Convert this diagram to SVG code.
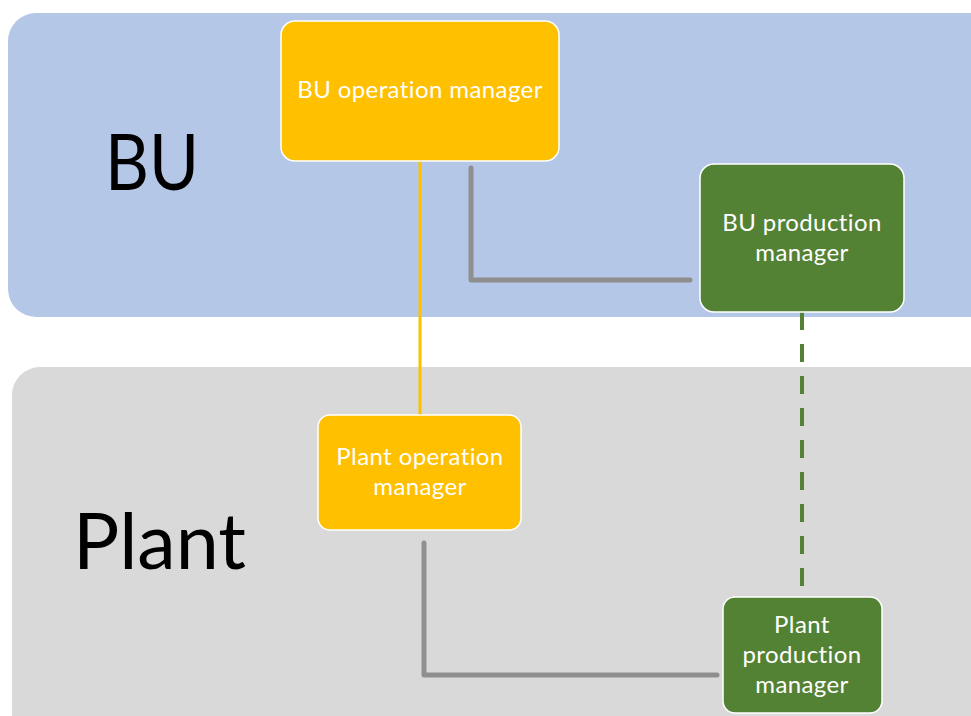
<svg xmlns="http://www.w3.org/2000/svg" width="971" height="716" viewBox="0 0 971 716">
  <style>
    .panel-label { font-family: "Lato", "Open Sans", sans-serif; fill: #000; }
    .node-text { font-family: "Lato", "Open Sans", sans-serif; font-size: 24px; fill: #fff; text-anchor: middle; letter-spacing: 0.4px; }
    .ops { fill: #FFC000; stroke: #fff; stroke-width: 1.5; }
    .prod { fill: #548235; stroke: #fff; stroke-width: 1.5; }
    .link { fill: none; stroke: #8f8f8f; stroke-width: 5; stroke-linecap: round; stroke-linejoin: round; }
  </style>
  <rect width="971" height="716" fill="#fff"/>

  <!-- Swimlanes -->
  <g id="lane-bu">
    <rect x="8" y="13" width="990" height="304" rx="28" fill="#B4C7E7"/>
    <text class="panel-label" x="105" y="190" font-size="78" textLength="94" lengthAdjust="spacingAndGlyphs">BU</text>
  </g>
  <g id="lane-plant">
    <rect x="12" y="367" width="990" height="380" rx="28" fill="#D9D9D9"/>
    <text class="panel-label" x="73" y="569" font-size="78" textLength="173" lengthAdjust="spacingAndGlyphs">Plant</text>
  </g>

  <!-- Connectors -->
  <g id="connectors">
    <line x1="420" y1="161" x2="420" y2="415" stroke="#FFC000" stroke-width="3"/>
    <path class="link" d="M471 168 V280 H690"/>
    <path class="link" d="M424 543 V675 H717"/>
    <line x1="802" y1="312" x2="802" y2="597" stroke="#548235" stroke-width="4" stroke-dasharray="18 14"/>
  </g>

  <!-- Nodes -->
  <g id="bu-operation-manager">
    <rect class="ops" x="281" y="21" width="278" height="140" rx="14"/>
    <text class="node-text" x="420" y="98">BU operation manager</text>
  </g>
  <g id="bu-production-manager">
    <rect class="prod" x="700" y="164" width="204" height="148" rx="14"/>
    <text class="node-text" x="802" y="231">BU production</text>
    <text class="node-text" x="802" y="261">manager</text>
  </g>
  <g id="plant-operation-manager">
    <rect class="ops" x="318" y="415" width="203" height="115" rx="12"/>
    <text class="node-text" x="420" y="465">Plant operation</text>
    <text class="node-text" x="420" y="495">manager</text>
  </g>
  <g id="plant-production-manager">
    <rect class="prod" x="723" y="597" width="159" height="116" rx="12"/>
    <text class="node-text" x="802" y="633">Plant</text>
    <text class="node-text" x="802" y="663">production</text>
    <text class="node-text" x="802" y="693">manager</text>
  </g>
</svg>
